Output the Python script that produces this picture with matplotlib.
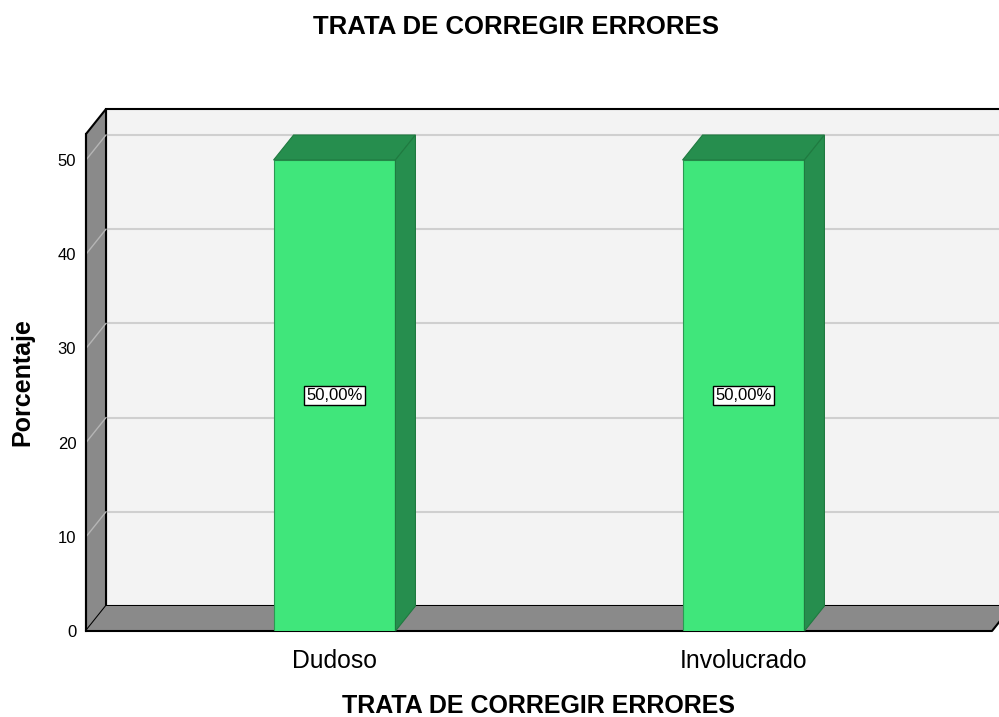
import numpy as np
import matplotlib.pyplot as plt
from matplotlib.patches import Polygon

plt.rcParams['font.family'] = ['Liberation Sans', 'DejaVu Sans']

categorias = ["Dudoso", "Involucrado"]
porcentajes = [50.0, 50.0]
etiquetas = ["50,00%", "50,00%"]
yticks = [0, 10, 20, 30, 40, 50]
titulo = "TRATA DE CORREGIR ERRORES"

verde = "#40E67B"
verde_osc = "#268E4E"
gris = "#8A8A8A"
fondo = "#F3F3F3"

fig = plt.figure(figsize=(9.99, 7.17), dpi=100)
ax = fig.add_axes([86/999, (717-631)/717, 906/999, 497/717])
x = np.arange(len(categorias))
xmin, xmax = -0.6076, 1.6076
ymin, ymax = 0, 52.76
ax.set_xlim(xmin, xmax)
ax.set_ylim(ymin, ymax)

# profundidad 3D en unidades de datos (20 px a la derecha, 25 px hacia arriba)
ddx = 20 * (xmax - xmin) / 906
ddy = 25 * (ymax - ymin) / 497

# pared del fondo
ax.add_patch(Polygon([(xmin+ddx, ddy), (xmax+ddx, ddy), (xmax+ddx, ymax+ddy), (xmin+ddx, ymax+ddy)],
                     closed=True, fc=fondo, ec="black", lw=1.5, clip_on=False, zorder=1))
for t in yticks[1:]:
    ax.plot([xmin+ddx, xmax+ddx], [t+ddy, t+ddy], color="#CFCFCF", lw=1.5, clip_on=False, zorder=1.5)

# pared lateral
ax.add_patch(Polygon([(xmin, 0), (xmin+ddx, ddy), (xmin+ddx, ymax+ddy), (xmin, ymax)],
                     closed=True, fc=gris, ec="black", lw=1.5, clip_on=False, zorder=2))
for t in yticks[1:]:
    ax.plot([xmin, xmin+ddx], [t, t+ddy], color="#B5B5B5", lw=1, clip_on=False, zorder=2.5)

# piso
ax.add_patch(Polygon([(xmin, 0), (xmax, 0), (xmax+ddx, ddy), (xmin+ddx, ddy)],
                     closed=True, fc=gris, ec="none", clip_on=False, zorder=2))
ax.plot([xmin, xmax, xmax+ddx], [0, 0, ddy], color="black", lw=1.5, clip_on=False, zorder=2.6)
ax.plot([xmin, xmin], [0, ymax], color="black", lw=1.5, clip_on=False, zorder=2.6)

# barras
w = 0.298
ax.bar(x, porcentajes, width=w, color=verde, edgecolor="#2A9A52", lw=0.8, zorder=4)
for xi, v, lab in zip(x, porcentajes, etiquetas):
    l, r = xi - w/2, xi + w/2
    ax.add_patch(Polygon([(l, v), (r, v), (r+ddx, v+ddy), (l+ddx, v+ddy)],
                         closed=True, fc=verde_osc, ec="#1F7A40", lw=0.8, clip_on=False, zorder=4))
    ax.add_patch(Polygon([(r, 0), (r+ddx, ddy), (r+ddx, v+ddy), (r, v)],
                         closed=True, fc=verde_osc, ec="#1F7A40", lw=0.8, clip_on=False, zorder=4))
    ax.text(xi, v/2, lab, ha="center", va="center", fontsize=12, zorder=5,
            bbox=dict(boxstyle="square,pad=0.12", fc="white", ec="black", lw=1))

for s in ax.spines.values():
    s.set_visible(False)
ax.set_xticks(x)
ax.set_xticklabels(categorias, fontsize=17.8)
ax.set_yticks(yticks)
ax.set_yticklabels([str(t) for t in yticks], fontsize=12)
ax.tick_params(axis="x", length=0, pad=13)
ax.tick_params(axis="y", length=0, pad=7)

ax.set_xlabel(titulo, fontsize=18, fontweight="bold", labelpad=15)
ax.set_ylabel("Porcentaje", fontsize=18, fontweight="bold", labelpad=17)
fig.text(516/999, 1 - 27/717, titulo, ha="center", va="center", fontsize=18.5, fontweight="bold")

fig.savefig("out.png", dpi=100)
